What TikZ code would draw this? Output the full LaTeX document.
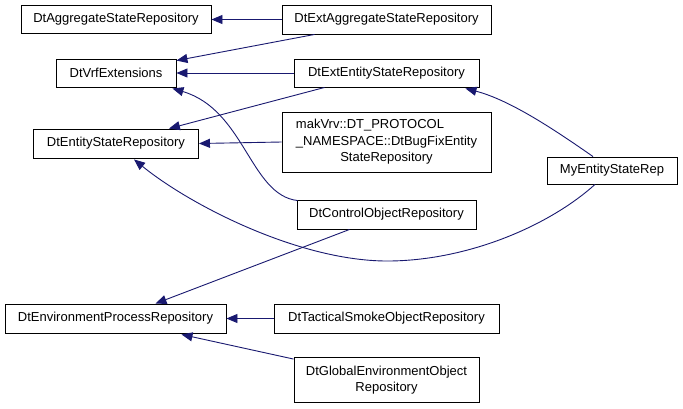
\documentclass[tikz,border=0pt]{standalone}
\usepackage{fontspec}
\usepackage{calc}
\setmainfont{Liberation Sans}
\usetikzlibrary{arrows.meta,calc}
\definecolor{edgeblue}{HTML}{191970}
\begin{document}
\begin{tikzpicture}[x=1pt,y=-1pt,
  cls/.style={draw=black,line width=0.9pt,fill=white,inner sep=0pt,font=\fontsize{13}{16.5}\selectfont,align=center},
  inh/.style={draw=edgeblue,line width=0.9pt,-{Triangle[length=11pt,width=9pt]},shorten >=0pt}]
\useasboundingbox (0,0) rectangle (683,408);
\fill[white] (0,0) rectangle (683,408);
% nodes
\node[cls,minimum width=190pt,minimum height=28pt] (agg) at (116,19.5) {DtAggregateStateRepository};
\node[cls,minimum width=120pt,minimum height=28pt] (vrf) at (116,73) {DtVrfExtensions};
\node[cls,minimum width=165pt,minimum height=29pt] (ent) at (116,143.5) {DtEntityStateRepository};
\node[cls,minimum width=209pt,minimum height=29pt] (extagg) at (386.5,19.5) {DtExtAggregateStateRepository};
\node[cls,minimum width=185pt,minimum height=28pt] (extent) at (386.5,73) {DtExtEntityStateRepository};
\node[cls,minimum width=209pt,minimum height=60pt] (mak) at (386.5,142) {\makebox[\widthof{\_NAMESPACE::DtBugFixEntity}][l]{makVrv::DT\_PROTOCOL}\\\_NAMESPACE::DtBugFixEntity\\StateRepository};
\node[cls,minimum width=130pt,minimum height=27pt] (my) at (612,170.5) {MyEntityStateRep};
\node[cls,minimum width=179pt,minimum height=29pt] (ctrl) at (386.5,214.5) {DtControlObjectRepository};
\node[cls,minimum width=221pt,minimum height=29pt] (env) at (115.5,318.5) {DtEnvironmentProcessRepository};
\node[cls,minimum width=225pt,minimum height=29pt] (smoke) at (386.5,318.5) {DtTacticalSmokeObjectRepository};
\node[cls,minimum width=185pt,minimum height=45pt] (glob) at (386.5,380) {DtGlobalEnvironmentObject\\Repository};
% edges
\draw[inh] (extagg.west) -- (agg.east);
\draw[inh] ($(extagg.south west)+(33,0)$) -- ($(vrf.north east)+(0,2)$);
\draw[inh] (extent.west) -- (vrf.east);
\draw[inh] ($(extent.south west)+(31,0)$) -- ($(ent.north east)+(-30,0)$);
\draw[inh] (mak.west) -- (ent.east);
\draw[inh] ($(ctrl.north west)+(1,1)$) .. controls (250,195) and (245,110) .. ($(vrf.south east)+(-4,1)$);
\draw[inh] ($(ctrl.south west)+(53,0)$) -- ($(env.north)+(40,0)$);
\draw[inh] ($(my.north)+(-19,0)$) .. controls (555,130) and (510,100) .. ($(extent.south east)+(-14,1)$);
\draw[inh] ($(my.south)+(-17,0)$) .. controls (550,225) and (470,260) .. (390,261) .. controls (300,262) and (190,205) .. ($(ent.south)+(18,1)$);
\draw[inh] (smoke.west) -- (env.east);
\draw[inh] ($(glob.north west)+(0,2)$) -- ($(env.south)+(66,1)$);
\end{tikzpicture}
\end{document}
